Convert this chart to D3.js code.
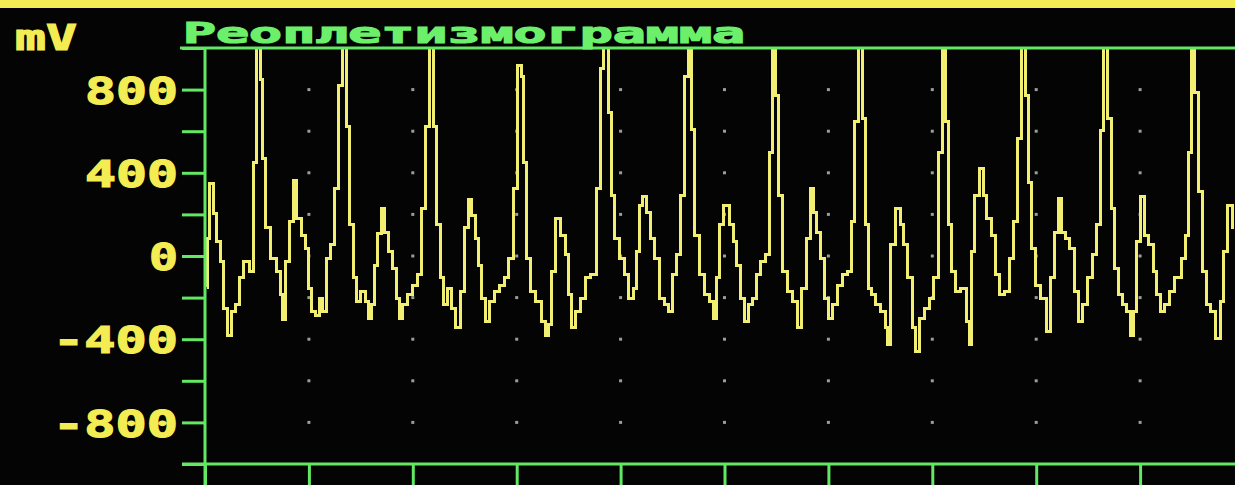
<!DOCTYPE html>
<html>
<head>
<meta charset="utf-8">
<script src="https://cdn.jsdelivr.net/npm/d3@7"></script>
<style>
  html, body { margin: 0; padding: 0; background: #040404; }
  svg { display: block; }
</style>
</head>
<body>
<svg id="chart" width="1235" height="485"></svg>
<script>
// Rheoplethysmogram trace: time in seconds, amplitude in mV (values above 1000 run off the screen top)
const timeSec = [
  0.02,0.03,0.06,0.10,0.13,0.16,0.20,0.24,0.27,0.32,0.35,0.40,0.45,0.48,0.51,0.55,0.56,0.61,0.66,0.71,
  0.74,0.75,0.79,0.83,0.87,0.90,0.95,0.98,1.01,1.04,1.09,1.12,1.15,1.19,1.23,1.27,1.30,1.35,1.38,1.41,
  1.44,1.48,1.52,1.56,1.59,1.62,1.65,1.68,1.71,1.75,1.78,1.83,1.86,1.88,1.92,1.97,2.02,2.07,2.10,2.15,
  2.18,2.21,2.25,2.28,2.31,2.36,2.39,2.44,2.47,2.52,2.55,2.58,2.62,2.65,2.68,2.71,2.76,2.81,2.86,2.90,
  2.95,2.98,3.03,3.06,3.08,3.11,3.16,3.21,3.26,3.29,3.32,3.35,3.39,3.45,3.48,3.51,3.55,3.59,3.64,3.69,
  3.74,3.79,3.82,3.86,3.90,3.93,3.96,4.01,4.06,4.10,4.14,4.17,4.20,4.23,4.27,4.31,4.35,4.40,4.44,4.48,
  4.51,4.56,4.59,4.64,4.67,4.70,4.73,4.78,4.83,4.88,4.91,4.94,4.97,5.02,5.07,5.10,5.13,5.18,5.21,5.25,
  5.29,5.33,5.37,5.42,5.45,5.48,5.50,5.53,5.58,5.63,5.68,5.73,5.76,5.81,5.84,5.87,5.90,5.95,5.98,6.02,
  6.06,6.11,6.16,6.21,6.24,6.27,6.31,6.34,6.37,6.40,6.43,6.48,6.53,6.56,6.58,6.62,6.67,6.71,6.74,6.79,
  6.82,6.85,6.90,6.95,6.99,7.04,7.07,7.12,7.14,7.17,7.20,7.25,7.30,7.35,7.36,7.39,7.43,7.48,7.51,7.54,
  7.59,7.62,7.67,7.72,7.76,7.80,7.84,7.88,7.91,7.94,7.97,8.02,8.07,8.12,8.15,8.20,8.23,8.26,8.31,8.34,
  8.39,8.42,8.47,8.52,8.57,8.60,8.63,8.67,8.71,8.74,8.77,8.81,8.85,8.89,8.92,8.95,8.98,9.03,9.06,9.11,
  9.14,9.18,9.21,9.26,9.30,9.37,9.42,9.45,9.48,9.51,9.54,9.58,9.62,9.66,9.70,9.75,9.79,9.82,9.87,9.90
];
const amplitudeMv = [
  -150,85,350,205,70,-25,-250,-380,-265,-235,-105,-25,-75,450,1040,850,470,135,-10,-75,
  -185,-305,-25,165,365,180,100,35,-155,-265,-285,-205,-265,-10,55,325,820,1040,625,150,
  -105,-220,-170,-220,-300,-235,-45,110,230,115,20,-60,-205,-300,-235,-185,-140,-90,230,625,
  1040,625,150,-105,-235,-155,-250,-345,-170,135,270,195,85,-45,-205,-315,-220,-170,-140,-105,
  -10,325,915,865,450,-10,-170,-220,-315,-380,-330,-75,180,100,5,-185,-345,-265,-205,-105,
  -90,325,900,1040,690,290,85,-10,-90,-205,-155,20,245,285,210,85,-10,-205,-235,-265,
  -90,5,290,865,1040,610,100,-90,-185,-220,-300,-105,150,245,150,70,-45,-205,-315,-235,
  -205,-90,-25,5,500,1040,770,290,-75,-170,-220,-345,-155,85,325,210,115,-10,-205,-300,
  -235,-140,-90,-75,165,645,1040,660,150,-155,-185,-235,-265,-345,-425,55,230,150,55,-105,
  -345,-460,-300,-250,-205,-105,500,1040,645,150,-75,-170,-155,-315,-425,20,290,420,290,180,
  100,-90,-185,-170,-10,165,565,1040,770,355,35,-140,-205,-365,-105,115,275,115,85,35,
  -170,-315,-235,-105,5,150,605,1040,660,230,-60,-185,-235,-265,-380,-265,70,285,100,55,
  -75,-185,-265,-235,-170,-105,-10,100,500,1040,785,310,-75,-235,-265,-395,-220,20,245,135
];

const yTicks = d3.range(-1000, 1001, 200);          // tick marks every 200 mV
const yLabels = [800, 400, 0, -400, -800];           // labelled values
const xTicks = d3.range(0, 10, 1);                   // one mark per second
const dotRows = d3.range(-800, 801, 200);            // grid dot rows
const titleText = "Реоплетизмограмма";
const unitText = "mV";

const W = 1235, H = 485;
const GREEN = "#62e862", YELLOW = "#f3ec52", TRACE = "#f2ee72";
const FONT = "'DejaVu Sans Mono', monospace";

const x = d3.scaleLinear().domain([0, 10]).range([205, 1244]);
const y = d3.scaleLinear().domain([-1000, 1000]).range([464, 48]);

const svg = d3.select("#chart");
svg.append("rect").attr("width", W).attr("height", H).attr("fill", "#040404");

// yellow band along the top of the screen
svg.append("rect").attr("x", 0).attr("y", 0).attr("width", W).attr("height", 8).attr("fill", YELLOW);

const defs = svg.append("defs");
defs.append("clipPath").attr("id", "plot")
  .append("rect")
  .attr("x", x(0) + 1).attr("y", y(1000))
  .attr("width", W - x(0)).attr("height", y(-1000) - y(1000));

// grid dots at every second / 200 mV
const dots = [];
xTicks.filter(t => t > 0).forEach(t => dotRows.forEach(v => dots.push([t, v])));
svg.append("g").selectAll("rect").data(dots).join("rect")
  .attr("x", d => x(d[0]) - 1.5).attr("y", d => y(d[1]) - 1.5)
  .attr("width", 3).attr("height", 3)
  .attr("fill", "#9a9e9a");

// signal
const line = d3.line()
  .x((d, i) => x(timeSec[i]))
  .y(d => y(d))
  .curve(d3.curveStep);
svg.append("path")
  .attr("clip-path", "url(#plot)")
  .attr("d", line(amplitudeMv))
  .attr("fill", "none")
  .attr("stroke", TRACE)
  .attr("stroke-width", 3)
  .attr("shape-rendering", "crispEdges");

// frame: top rule under the title, bottom rule and vertical axis
const frame = svg.append("g").attr("stroke", GREEN).attr("stroke-width", 3);
frame.append("line").attr("x1", x(0) - 25).attr("x2", W).attr("y1", y(1000)).attr("y2", y(1000));
frame.append("line").attr("x1", x(0) - 23).attr("x2", W).attr("y1", y(-1000)).attr("y2", y(-1000));
frame.append("line").attr("x1", x(0)).attr("x2", x(0)).attr("y1", y(1000)).attr("y2", H);

// y axis
const yAxis = svg.append("g")
  .attr("transform", `translate(${x(0)},0)`)
  .call(d3.axisLeft(y).tickValues(yTicks).tickSize(23).tickPadding(4)
    .tickFormat(v => yLabels.includes(v) ? String(v).replace("\u2212", "-") : ""));
yAxis.select(".domain").remove();
yAxis.selectAll(".tick line").attr("stroke", GREEN).attr("stroke-width", 3);
yAxis.selectAll(".tick text")
  .attr("fill", YELLOW)
  .attr("stroke", YELLOW)
  .attr("stroke-width", 1.2)
  .attr("font-family", FONT)
  .attr("font-weight", "bold")
  .attr("font-size", 38)
  .attr("dy", "0.36em")
  .each(function () {
    const s = d3.select(this).text();
    if (s.length) d3.select(this).attr("textLength", 32 * s.length - 3).attr("lengthAdjust", "spacingAndGlyphs");
  });

// x axis marks below the bottom rule
const xAxis = svg.append("g")
  .attr("transform", `translate(0,${y(-1000)})`)
  .call(d3.axisBottom(x).tickValues(xTicks).tickSize(24).tickFormat(""));
xAxis.select(".domain").remove();
xAxis.selectAll(".tick line").attr("stroke", GREEN).attr("stroke-width", 3);

// unit and title
svg.append("text")
  .attr("x", 15).attr("y", 50)
  .attr("fill", YELLOW)
  .attr("stroke", YELLOW).attr("stroke-width", 1.2)
  .attr("font-family", FONT)
  .attr("font-weight", "bold")
  .attr("font-size", 36)
  .attr("textLength", 62).attr("lengthAdjust", "spacingAndGlyphs")
  .text(unitText);

svg.append("text")
  .attr("x", 183).attr("y", 43)
  .attr("fill", "#6cf06c")
  .attr("stroke", "#6cf06c").attr("stroke-width", 1.2)
  .attr("font-family", FONT)
  .attr("font-weight", "bold")
  .attr("font-size", 29)
  .attr("textLength", 562).attr("lengthAdjust", "spacingAndGlyphs")
  .text(titleText);
</script>
</body>
</html>
